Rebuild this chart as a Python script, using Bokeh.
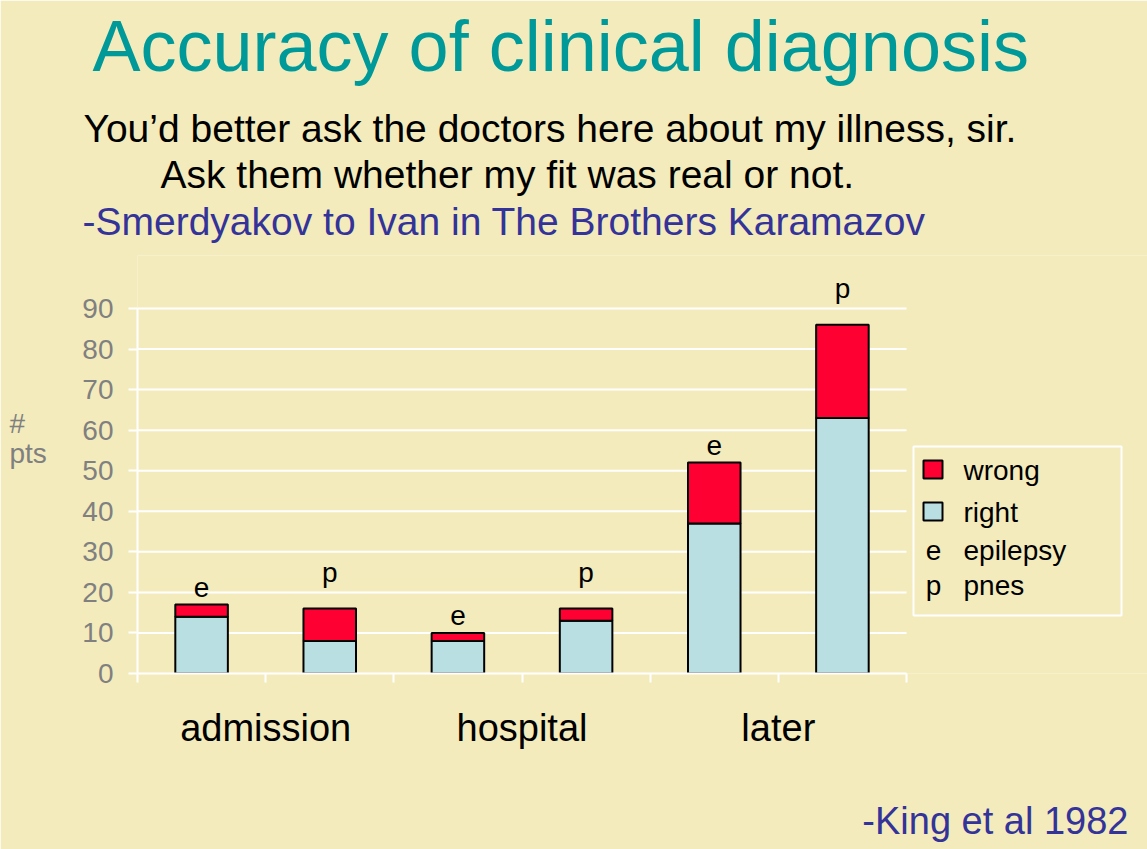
import numpy as np
from bokeh.plotting import figure
from bokeh.models import ColumnDataSource, LabelSet, Label, FixedTicker, Range1d
from bokeh.core.properties import value
from bokeh.embed import file_html
from bokeh.resources import INLINE

# ---------------- data ----------------
groups = ["admission", "hospital", "later"]
diagnosis = ["e", "p", "e", "p", "e", "p"]
right = [14, 8, 8, 13, 37, 63]
wrong = [3, 8, 2, 3, 15, 23]
y_ticks = [0, 10, 20, 30, 40, 50, 60, 70, 80, 90]
series_names = ["wrong", "right"]
code_letters = ["e", "p"]
code_names = ["epilepsy", "pnes"]

title_text = "Accuracy of clinical diagnosis"
quote_lines = ["You\u2019d better ask the doctors here about my illness, sir.",
               "Ask them whether my fit was real or not."]
quote_source = "-Smerdyakov to Ivan in The Brothers Karamazov"
citation = "-King et al 1982"
y_label_lines = ["#", "pts"]

# ---------------- style ----------------
BG = "#F3EBBC"
RED = "#FF0033"
BLUE = "#B9DFE3"
TEAL = "#009999"
NAVY = "#333399"
GRAY = "#808080"
FONT = "Liberation Sans"
BASE_FIX = 0.375          # baseline correction (fraction of font size)

W, H = 1147, 849
AX_L, AX_R, AX_T, AX_B = 137, 906, 308, 673   # chart axes extent in pixels
FRAME_T = 255                                 # frame extends above the 90 line

n = len(diagnosis)
y_max = y_ticks[-1]


def X(px):
    return (px - AX_L) / (AX_R - AX_L) * n


def Y(py):
    return (AX_B - py) / (AX_B - AX_T) * y_max


def YB(py, size):
    """data y for a text baseline at pixel py"""
    return Y(py - BASE_FIX * size)


p = figure(width=W, height=H, x_range=Range1d(0, X(W)), y_range=Range1d(0, Y(FRAME_T)),
           output_backend="svg", toolbar_location=None,
           min_border_left=AX_L, min_border_right=0,
           min_border_top=FRAME_T, min_border_bottom=H - AX_B,
           background_fill_color=BG, border_fill_color=BG, outline_line_color=None)

# horizontal grid lines, limited to the chart area
p.segment(x0=0, x1=n, y0=y_ticks[1:], y1=y_ticks[1:], line_color="white", line_width=2)

xs = np.arange(n) + 0.5
total = np.array(right) + np.array(wrong)
label_offset = {"e": 8, "p": 27}
src = ColumnDataSource(dict(x=xs, right=right, wrong=wrong, total=total, dx=diagnosis,
                            off=[label_offset[d] for d in diagnosis]))

p.vbar(x="x", bottom=0, top="right", width=0.41, source=src,
       fill_color=BLUE, line_color="black", line_width=2)
p.vbar(x="x", bottom="right", top="total", width=0.41, source=src,
       fill_color=RED, line_color="black", line_width=2)

p.add_layout(LabelSet(x="x", y="total", text="dx", y_offset="off", source=src,
                      text_align="center", text_baseline="alphabetic",
                      text_font=value(FONT), text_font_size="28px", text_color="black"))

# axes
p.yaxis.bounds = (0, y_max)
p.yaxis.ticker = FixedTicker(ticks=y_ticks)
p.yaxis.axis_line_color = "white"
p.yaxis.axis_line_width = 2
p.yaxis.major_tick_line_color = "white"
p.yaxis.major_tick_line_width = 2
p.yaxis.major_tick_in = 0
p.yaxis.major_tick_out = 9
p.yaxis.minor_tick_line_color = None
p.yaxis.major_label_text_font = FONT
p.yaxis.major_label_text_font_size = "28px"
p.yaxis.major_label_text_color = GRAY
p.yaxis.major_label_standoff = 15

p.xaxis.bounds = (0, n)
p.xaxis.ticker = FixedTicker(ticks=list(range(n + 1)))
overrides = {i: "" for i in range(n + 1)}
for i, g in enumerate(groups):
    overrides[2 * i + 1] = g
p.xaxis.major_label_overrides = overrides
p.xaxis.axis_line_color = "white"
p.xaxis.axis_line_width = 2
p.xaxis.major_tick_line_color = "white"
p.xaxis.major_tick_line_width = 2
p.xaxis.major_tick_in = 0
p.xaxis.major_tick_out = 9
p.xaxis.minor_tick_line_color = None
p.xaxis.major_label_text_font = FONT
p.xaxis.major_label_text_font_size = "38px"
p.xaxis.major_label_text_color = "black"
p.xaxis.major_label_standoff = 24

p.xgrid.visible = False
p.ygrid.visible = False

# legend (inside the extended frame)
p.quad(left=X(913), right=X(1121), top=Y(446), bottom=Y(615),
       fill_color=None, line_color="white", line_width=2)
sw_top = [Y(460 + 42 * i) for i in range(len(series_names))]
sw_bot = [Y(478 + 42 * i) for i in range(len(series_names))]
p.quad(left=X(923), right=X(942), top=sw_top, bottom=sw_bot,
       fill_color=[RED, BLUE], line_color="black", line_width=2)
p.text(x=X(963), y=[YB(480 + 42 * i, 28) for i in range(len(series_names))], text=series_names,
       text_font=value(FONT), text_font_size="28px", text_color="black",
       text_baseline="alphabetic", text_align="left")
code_base = [YB(560 + 35 * i, 28) for i in range(len(code_letters))]
p.text(x=X(933), y=code_base, text=code_letters, text_font=value(FONT),
       text_font_size="28px", text_color="black", text_baseline="alphabetic", text_align="center")
p.text(x=X(963), y=code_base, text=code_names, text_font=value(FONT),
       text_font_size="28px", text_color="black", text_baseline="alphabetic", text_align="left")


def add_text(side, text, px, py, size, color, align="left"):
    p.add_layout(Label(x=X(px), y=YB(py, size), text=text, text_font=FONT,
                       text_font_size=f"{size}px", text_color=color,
                       text_align=align, text_baseline="alphabetic"), side)


# slide texts (pixel positions of the reference slide)
add_text("above", title_text, 92, 72, 72, TEAL)
add_text("above", quote_lines[0], 83, 143, 39, "black")
add_text("above", quote_lines[1], 160, 189, 39, "black")
add_text("above", quote_source, 82, 236, 39, NAVY)
add_text("below", citation, 1128, 835, 38, NAVY, align="right")
add_text("left", y_label_lines[0], 9, 433, 28, GRAY)
add_text("left", y_label_lines[1], 9, 463, 28, GRAY)

open("out.html", "w").write(file_html(p, INLINE))
